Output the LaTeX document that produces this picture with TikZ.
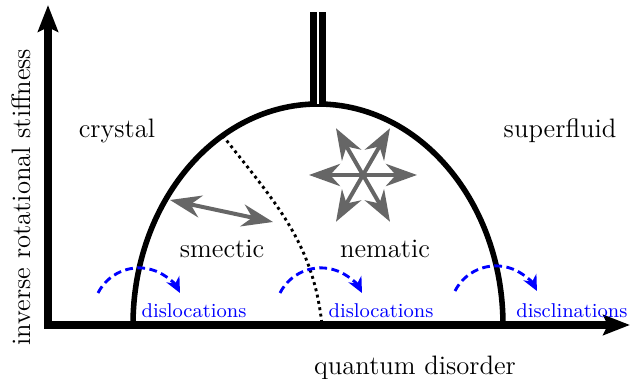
\documentclass[tikz,border=0pt]{standalone}
\definecolor{phasegray}{RGB}{102, 102, 102}
\definecolor{defectblue}{RGB}{0, 0, 255}
\usepackage{tikz}
\usetikzlibrary{arrows.meta, calc}

\tikzset{
  axistip/.tip={Stealth[length=12pt, width=9pt, inset=2pt]},
  graytip/.tip={Stealth[length=14pt, width=10pt, inset=4.5pt]},
}

\begin{document}
\begin{tikzpicture}[x=0.45pt, y=0.45pt,
  axis/.style={line width=3.4pt, line join=miter, {axistip}-{axistip}},
  boundary/.style={line width=2.5pt},
  director/.style={draw=phasegray, line width=1.8pt, {graytip}-{graytip}},
  defect/.style={draw=defectblue, line width=1.3pt, dash pattern=on 3.5pt off 2pt, -{Stealth[length=7pt, width=6.5pt]}},
  phase/.style={font=\large},
  defectlabel/.style={font=\small, text=defectblue}]
  \useasboundingbox (-48,-54) rectangle (584,325);

  \coordinate (origin) at (0,0);
  \coordinate (ytip) at (0,320);
  \coordinate (xtip) at (582,0);
  \coordinate (c) at (270,0);
  \coordinate (top) at (270,313);
  \coordinate (star) at (315,150);

  % dome
  \draw[boundary] ($(c)+(185,0)$) arc[start angle=0, end angle=180, x radius=185, y radius=221];
  \draw[line width=3.1pt, double=white, double distance=0.9pt] ($(c)+(0,221)$) -- (top);
  \draw[line width=1.3pt, dash pattern=on 1.3pt off 1.6pt] ($(c)+(121:185 and 221)$) to[out=-52, in=96] (274,0);

  \draw[axis] (ytip) -- (origin) -- (xtip);

  % order parameters
  \foreach \a in {0,60,120}
    \draw[director] ($(star)+(\a:54)$) -- ($(star)+(\a+180:54)$);
  \coordinate (sml) at (122,125);
  \coordinate (smr) at (225,103);
  \draw[director] (sml) -- (smr);

  % defects
  \foreach \x/\y in {50/32, 232/32, 407/34}
    \draw[defect] (\x,\y) arc[start angle=153, end angle=27, radius=46];

  \node[phase] (crystal) at (69,194) {crystal};
  \node[phase] (superfluid) at (512,194) {superfluid};
  \node[phase] (smectic) at (174,76) {smectic};
  \node[phase] (nematic) at (337,76) {nematic};
  \node[phase] (xlabel) at (367,-43) {quantum disorder};
  \node[phase, rotate=90] (ylabel) at (-27,128) {inverse rotational stiffness};
  \node[defectlabel] (dis1) at (146,14) {dislocations};
  \node[defectlabel] (dis2) at (333,14) {dislocations};
  \node[defectlabel] (discl) at (524,14) {disclinations};
\end{tikzpicture}
\end{document}
